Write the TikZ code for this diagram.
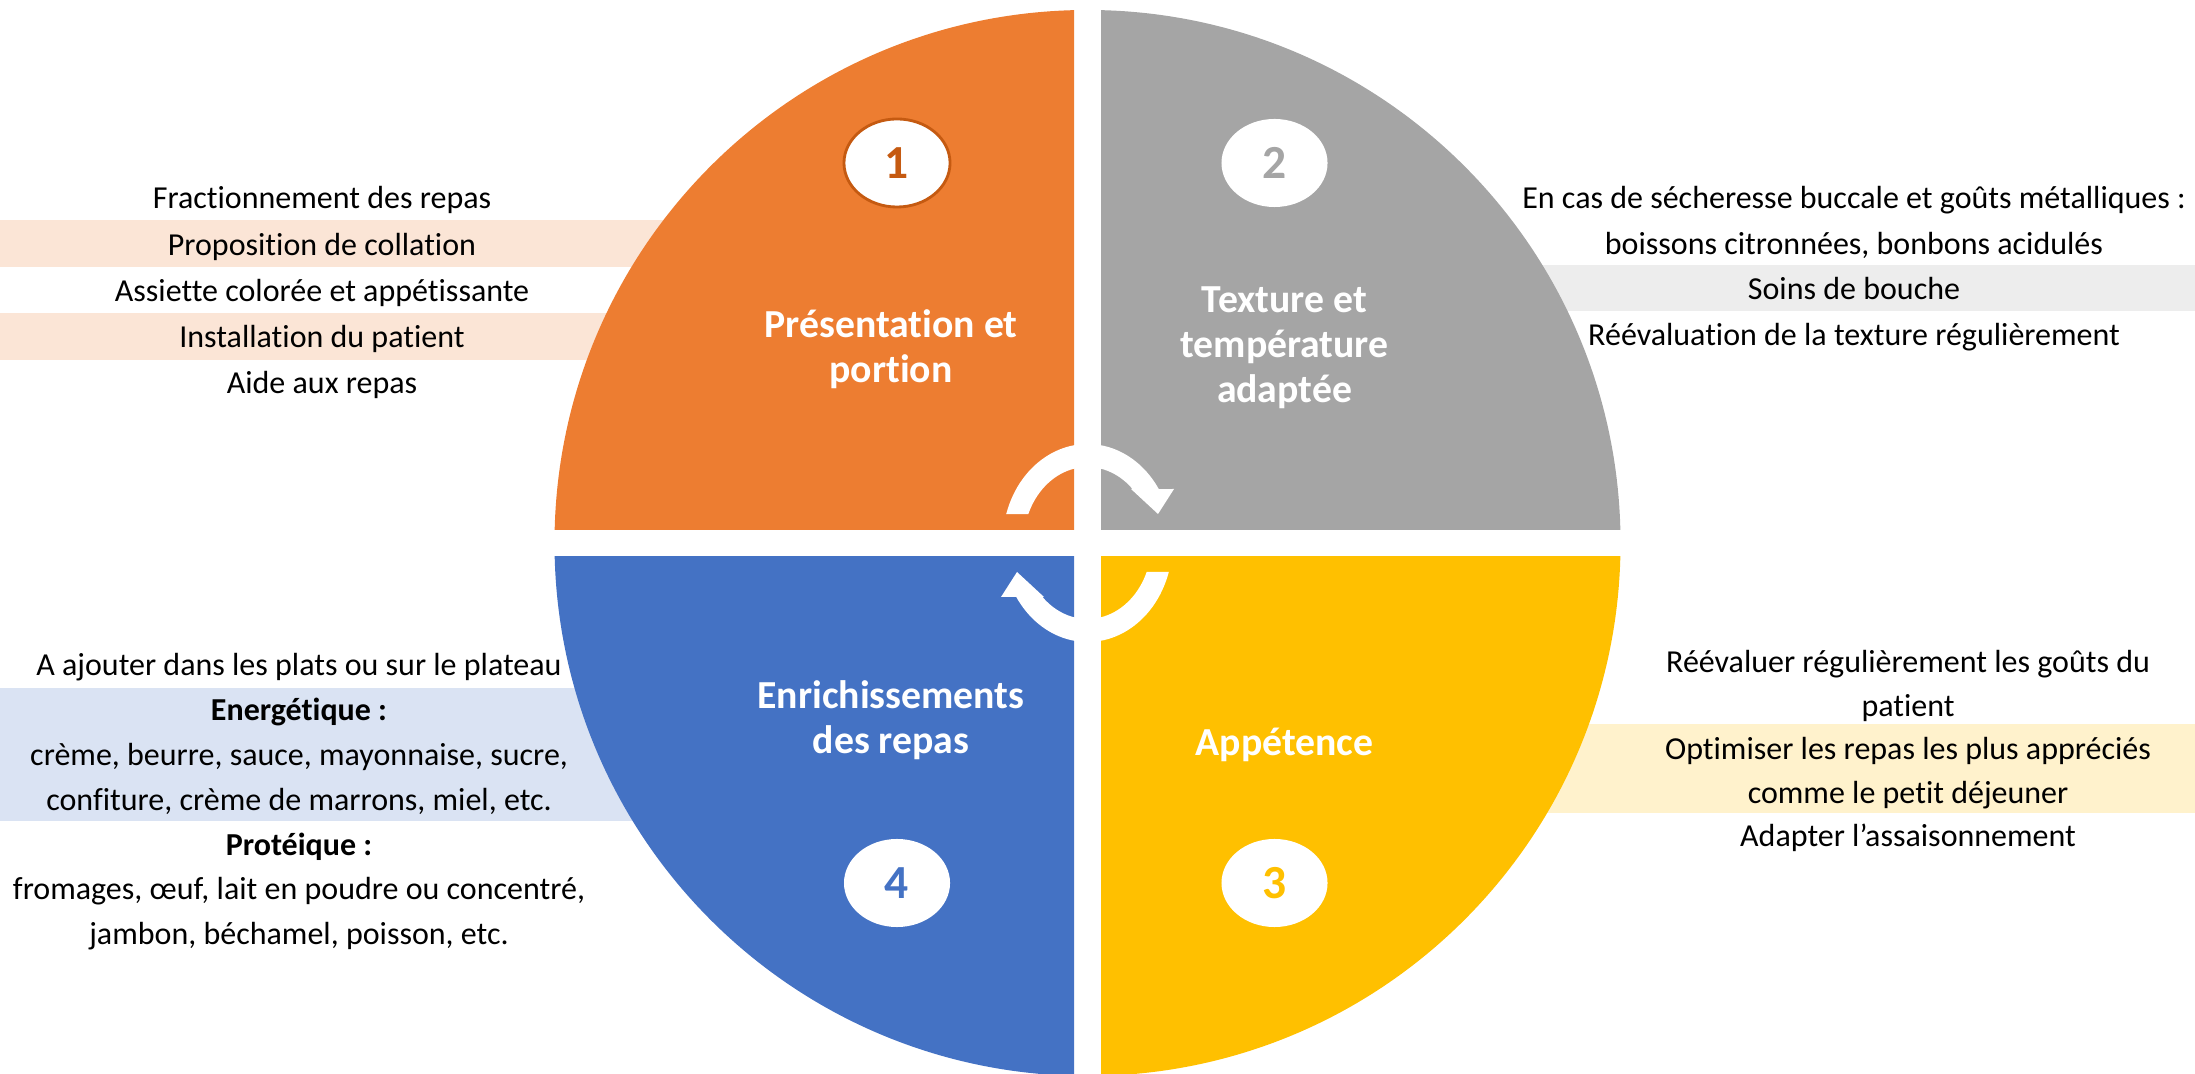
\documentclass[tikz,border=0pt]{standalone}
\usepackage{fontspec}
\setmainfont{Carlito}[Ligatures=NoCommon]
\usetikzlibrary{shapes.geometric}
\definecolor{qorange}{HTML}{ED7D31}
\definecolor{qgrey}{HTML}{A5A5A5}
\definecolor{qgold}{HTML}{FFC000}
\definecolor{qblue}{HTML}{4472C4}
\definecolor{dorange}{HTML}{C55A11}
\definecolor{borange}{HTML}{FBE5D6}
\definecolor{bgrey}{HTML}{EDEDED}
\definecolor{bblue}{HTML}{DAE3F3}
\definecolor{bgold}{HTML}{FFF2CC}
\begin{document}
\begin{tikzpicture}[x=0.01cm,y=0.01cm,
  body/.style={font=\fontsize{9.1pt}{11pt}\selectfont, anchor=base, inner sep=0pt, text=black},
  bodyb/.style={body, font=\fontsize{9.1pt}{11pt}\selectfont\bfseries},
  ttl/.style={font=\fontsize{11.3pt}{13pt}\selectfont\bfseries, anchor=base, inner sep=0pt, text=white},
  numell/.style={ellipse, fill=white, minimum width=1.06cm, minimum height=0.88cm, inner sep=0pt,
    font=\fontsize{13.5pt}{15pt}\selectfont\bfseries},
  ringarrow/.style={fill=white}]
\useasboundingbox (0,0) rectangle (2195,1073);
% bands
\fill[borange] (0,806.3) rectangle (900,853);
\fill[borange] (0,713) rectangle (900,760);
\fill[bgrey] (1300,762) rectangle (2195,808);
\fill[bblue] (0,252) rectangle (900,385);
\fill[bgold] (1300,260) rectangle (2195,349);
% quadrants
\begin{scope}\clip (0,543.5) rectangle (1074,1073); \fill[qorange] (1087.5,530) circle (533); \end{scope}
\begin{scope}\clip (1101,543.5) rectangle (2195,1073); \fill[qgrey] (1087.5,530) circle (533); \end{scope}
\begin{scope}\clip (1101,-20) rectangle (2195,516.5); \fill[qgold] (1087.5,530) circle (533); \end{scope}
\begin{scope}\clip (0,-20) rectangle (1074,516.5); \fill[qblue] (1087.5,530) circle (533); \end{scope}
% ring arrows
\foreach \r in {0,180}{
  \fill[ringarrow, shift={(1087.5,530)}, rotate=\r]
    (163:85 and 99) arc[start angle=163, end angle=33, x radius=85, y radius=99]
    -- (86.5,54) -- (70.5,29) -- (43.5,54) -- (45.3:64 and 76)
    arc[start angle=45.3, end angle=157.6, x radius=64, y radius=76] -- cycle;
}
% number ellipses
\node[numell, draw=dorange, line width=0.8pt, text=dorange] (n1) at (897,910) {1};
\node[numell, text=qgrey] (n2) at (1274.5,910) {2};
\node[numell, text=qgold] (n3) at (1274.5,190) {3};
\node[numell, text=qblue] (n4) at (897,190) {4};
% titles
\node[ttl] (t1a) at (891,735) {Présentation et};
\node[ttl] (t1b) at (891,690) {portion};
\node[ttl] (t2a) at (1284.5,760) {Texture et};
\node[ttl] (t2b) at (1284.5,715) {température};
\node[ttl] (t2c) at (1284.5,670) {adaptée};
\node[ttl] (t3a) at (1284.5,317) {Appétence};
\node[ttl] (t4a) at (891,364) {Enrichissements};
\node[ttl] (t4b) at (891,319) {des repas};
% left top
\node[body] (lt1) at (322,864) {Fractionnement des repas};
\node[body] (lt2) at (322,817.8) {Proposition de collation};
\node[body] (lt3) at (322,771.6) {Assiette colorée et appétissante};
\node[body] (lt4) at (322,725.4) {Installation du patient};
\node[body] (lt5) at (322,679.2) {Aide aux repas};
% right top
\node[body] (rt1) at (1854,864) {En cas de sécheresse buccale et goûts métalliques :};
\node[body] (rt2) at (1854,818.5) {boissons citronnées, bonbons acidulés};
\node[body] (rt3) at (1854,773) {Soins de bouche};
\node[body] (rt4) at (1854,727) {Réévaluation de la texture régulièrement};
% left bottom
\node[body] (lb1) at (299,397) {A ajouter dans les plats ou sur le plateau};
\node[bodyb] (lb2) at (299,352) {Energétique :};
\node[body] (lb3) at (299,307) {crème, beurre, sauce, mayonnaise, sucre,};
\node[body] (lb4) at (299,262) {confiture, crème de marrons, miel, etc.};
\node[bodyb] (lb5) at (299,217.5) {Protéique :};
\node[body] (lb6) at (299,173) {fromages, œuf, lait en poudre ou concentré,};
\node[body] (lb7) at (299,128.5) {jambon, béchamel, poisson, etc.};
% right bottom
\node[body] (rb1) at (1908,400) {Réévaluer régulièrement les goûts du};
\node[body] (rb2) at (1908,356.5) {patient};
\node[body] (rb3) at (1908,313) {Optimiser les repas les plus appréciés};
\node[body] (rb4) at (1908,269.5) {comme le petit déjeuner};
\node[body] (rb5) at (1908,226) {Adapter l’assaisonnement};
\end{tikzpicture}
\end{document}
